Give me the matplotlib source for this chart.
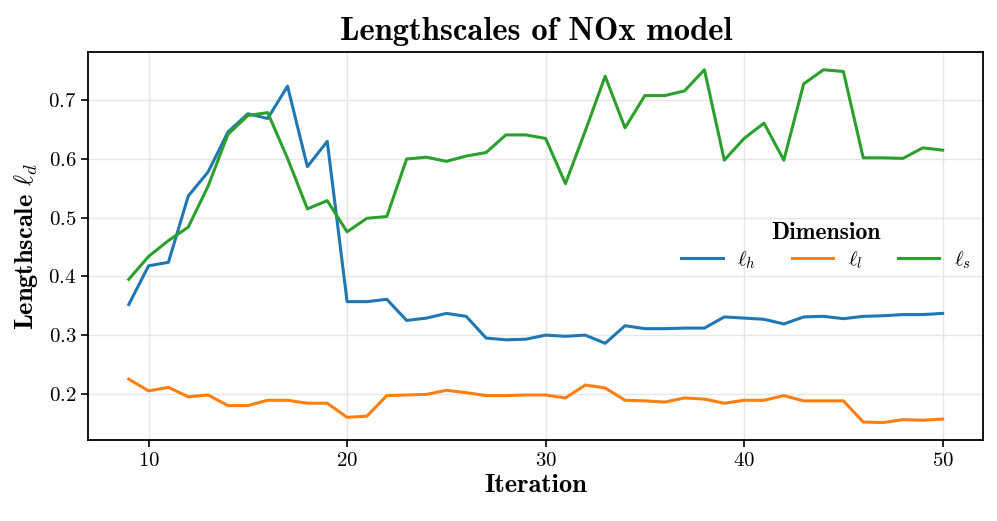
import matplotlib
matplotlib.use("Agg")
import matplotlib.pyplot as plt

plt.rcParams['font.family'] = ['cmr10', 'DejaVu Serif']
plt.rcParams['mathtext.fontset'] = 'cm'
plt.rcParams['axes.formatter.use_mathtext'] = True
plt.rcParams['axes.unicode_minus'] = False

iterations = list(range(9, 51))
ell_h = [0.352, 0.418, 0.424, 0.537, 0.578, 0.646, 0.677, 0.669, 0.724, 0.587,
         0.630, 0.357, 0.357, 0.361, 0.325, 0.329, 0.337, 0.332, 0.295, 0.292,
         0.293, 0.300, 0.298, 0.300, 0.286, 0.316, 0.311, 0.311, 0.312, 0.312,
         0.331, 0.329, 0.327, 0.319, 0.331, 0.332, 0.328, 0.332, 0.333, 0.335,
         0.335, 0.337]
ell_l = [0.225, 0.205, 0.211, 0.195, 0.198, 0.180, 0.180, 0.189, 0.189, 0.184,
         0.184, 0.160, 0.162, 0.197, 0.198, 0.199, 0.206, 0.202, 0.197, 0.197,
         0.198, 0.198, 0.193, 0.215, 0.210, 0.189, 0.188, 0.186, 0.193, 0.191,
         0.184, 0.189, 0.189, 0.197, 0.188, 0.188, 0.188, 0.152, 0.151, 0.156,
         0.155, 0.157]
ell_s = [0.395, 0.434, 0.461, 0.484, 0.554, 0.642, 0.674, 0.679, 0.601, 0.515,
         0.529, 0.476, 0.499, 0.502, 0.600, 0.603, 0.596, 0.605, 0.611, 0.641,
         0.641, 0.635, 0.558, 0.648, 0.741, 0.653, 0.708, 0.708, 0.716, 0.752,
         0.598, 0.635, 0.661, 0.598, 0.728, 0.752, 0.749, 0.602, 0.602, 0.601,
         0.619, 0.615]
labels = [r'$\ell_h$', r'$\ell_l$', r'$\ell_s$']
colors = ['#1f77b4', '#ff7f0e', '#2ca02c']

fig = plt.figure(figsize=(9.97, 5.21), dpi=100)
ax = fig.add_axes([0.0883, 0.155, 0.898, 0.745])

for ys, lab, c in zip([ell_h, ell_l, ell_s], labels, colors):
    ax.plot(iterations, ys, color=c, lw=2.2, label=lab)

ax.grid(True, color='#e6e6e6', lw=1.0)
ax.set_axisbelow(True)
for s in ax.spines.values():
    s.set_linewidth(1.3)
ax.tick_params(labelsize=15, width=1.2, length=5)
ax.set_xticks([10, 20, 30, 40, 50])
ax.set_yticks([0.2, 0.3, 0.4, 0.5, 0.6, 0.7])

ax.set_xlabel('Iteration', fontsize=19, family=['cmb10'], labelpad=3)
ax.set_ylabel(r'Lengthscale $\ell_d$', fontsize=19, family=['cmb10'], labelpad=6)
ax.set_title('Lengthscales of NOx model', fontsize=23.5, family=['cmb10'], pad=9)

leg = ax.legend(loc='center right', ncol=3, frameon=False, fontsize=15,
                title='Dimension', handlelength=2.0, columnspacing=1.7,
                handletextpad=0.7, borderaxespad=0.3, borderpad=0.3)
leg.get_title().set_family('cmb10')
leg.get_title().set_fontsize(17)
leg._legend_box.sep = 4

fig.savefig('out.png', dpi=100)
